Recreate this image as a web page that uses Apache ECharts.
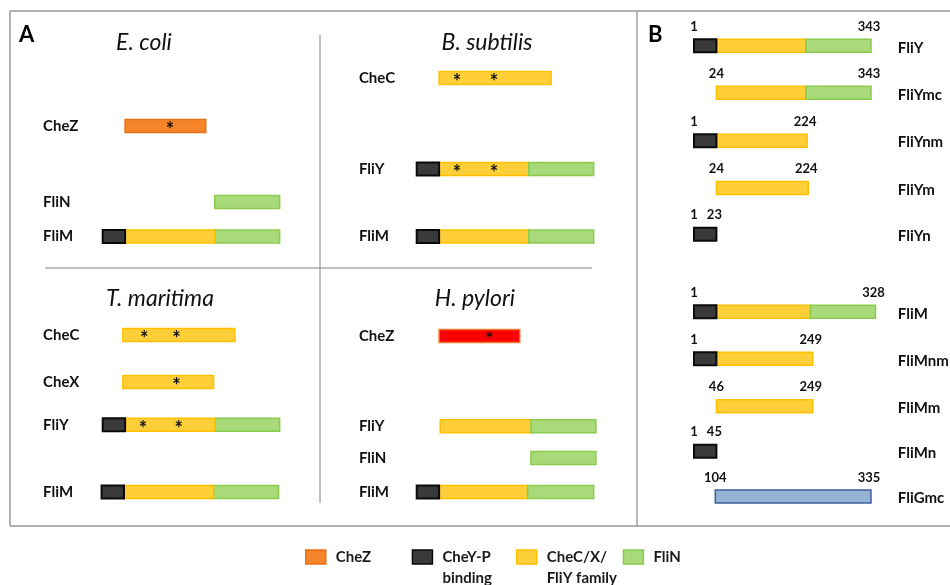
<!DOCTYPE html>
<html>
<head>
<meta charset="utf-8">
<script src="https://cdn.jsdelivr.net/npm/echarts@6/dist/echarts.min.js"></script>
<style>
  html, body { margin: 0; padding: 0; background: #fff; }
  #chart { width: 950px; height: 585px; }
</style>
</head>
<body>
<div id="chart"></div>
<script>
// x values are schematic domain units (N-terminal CheY-P block = 0..10)
// y values are row lanes inside each panel

// ---- A: E. coli ----
const ecoliProteins = ['CheZ', 'FliN', 'FliM']
const ecoliRows = [2.41, 4.65, 5.66]
const ecoliDomains = [
  [['CheZ', 10, 46]],
  [['FliN', 50, 79]],
  [['CheY', 0, 10], ['CheC', 10, 50], ['FliN', 50, 79]]
]
const ecoliStars = [[30], [], []]

// ---- A: T. maritima ----
const tmarProteins = ['CheC', 'CheX', 'FliY', 'FliM']
const tmarRows = [8.56, 9.94, 11.2, 13.18]
const tmarDomains = [
  [['CheC', 9, 59]],
  [['CheC', 9, 49.5]],
  [['CheY', 0, 10], ['CheC', 10, 50], ['FliN', 50, 79]],
  [['CheY', -0.5, 9.5], ['CheC', 9.5, 49.5], ['FliN', 49.5, 78.5]]
]
const tmarStars = [[18.5, 33], [33], [18, 34], []]

// ---- A: B. subtilis ----
const bsubProteins = ['CheC', 'FliY', 'FliM']
const bsubRows = [1.0, 3.68, 5.66]
const bsubDomains = [
  [['CheC', 10, 60]],
  [['CheY', 0, 10], ['CheC', 10, 50], ['FliN', 50, 79]],
  [['CheY', 0, 10], ['CheC', 10, 50], ['FliN', 50, 79]]
]
const bsubStars = [[18, 34.5], [18, 34.5], []]

// ---- A: H. pylori ----
const hpylProteins = ['CheZ', 'FliY', 'FliN', 'FliM']
const hpylRows = [8.59, 11.24, 12.18, 13.18]
const hpylDomains = [
  [['CheZhp', 10, 46]],
  [['CheC', 10.5, 51], ['FliN', 51, 80]],
  [['FliN', 51, 80]],
  [['CheY', 0, 10], ['CheC', 10, 49.5], ['FliN', 49.5, 79]]
]
const hpylStars = [[32.5], [], [], []]

// ---- B: constructs ----
const fliConstructs = ['FliY', 'FliYmc', 'FliYnm', 'FliYm', 'FliYn', 'FliM', 'FliMnm', 'FliMm', 'FliMn', 'FliGmc']
const fliRows = [0, 1.0, 2.02, 3.03, 4.01, 5.66, 6.66, 7.67, 8.63, 9.59]
const fliDomains = [
  [['CheY', 0, 10], ['CheC', 10, 50], ['FliN', 50, 79]],
  [['CheC', 10, 50], ['FliN', 50, 79]],
  [['CheY', 0, 10], ['CheC', 10, 50.5]],
  [['CheC', 10, 51]],
  [['CheY', 0, 10]],
  [['CheY', 0, 10], ['CheC', 10, 52], ['FliN', 52, 81]],
  [['CheY', 0, 10], ['CheC', 10, 53]],
  [['CheC', 10, 53]],
  [['CheY', 0, 10]],
  [['FliG', 9.5, 79]]
]
const fliResidues = [[1, 343], [24, 343], [1, 224], [24, 224], [1, 23], [1, 328], [1, 249], [46, 249], [1, 45], [104, 335]]

const FONT = 'Lato, "Open Sans", sans-serif'
const BAR_H = 13
const COLORS = {
  CheZ: { fill: '#F5842A', stroke: '#EC6E14', lw: 1.5 },
  CheZhp: { fill: '#FF0000', stroke: '#EC7A2C', lw: 1.5 },
  CheY: { fill: '#3A3A3A', stroke: '#0A0A0A', lw: 2 },
  CheC: { fill: '#FFCF3A', stroke: '#FFC000', lw: 1.5 },
  FliN: { fill: '#A8DA7A', stroke: '#8ACB4E', lw: 1.5 },
  FliG: { fill: '#95B3D7', stroke: '#3B5F97', lw: 1.5 }
}
const SERIES_NAMES = {
  CheZ: 'CheZ',
  CheZhp: 'CheZ (H. pylori)',
  CheY: 'CheY-P\nbinding',
  CheC: 'CheC/X/\nFliY family',
  FliN: 'FliN',
  FliG: 'FliG'
}

// bars of one grid, one series per domain type
function barSeries (gridIndex, rows, domains) {
  const byType = {}
  domains.forEach((segs, i) => {
    segs.forEach(([type, start, end]) => {
      (byType[type] = byType[type] || []).push([start, end, rows[i]])
    })
  })
  return Object.keys(byType).map(type => {
    const c = COLORS[type]
    return {
      type: 'custom',
      name: SERIES_NAMES[type],
      xAxisIndex: gridIndex,
      yAxisIndex: gridIndex,
      encode: { x: [0, 1], y: 2 },
      itemStyle: { color: c.fill, borderColor: c.stroke, borderWidth: c.lw },
      z: type === 'CheY' ? 3 : 2,
      data: byType[type],
      renderItem: (params, api) => {
        const a = api.coord([api.value(0), api.value(2)])
        const b = api.coord([api.value(1), api.value(2)])
        return {
          type: 'rect',
          shape: { x: a[0], y: a[1] - BAR_H / 2, width: b[0] - a[0], height: BAR_H },
          style: { fill: c.fill, stroke: c.stroke, lineWidth: c.lw }
        }
      }
    }
  })
}

// names, asterisks and residue numbers of one grid
function textSeries (gridIndex, items) {
  return {
    type: 'custom',
    xAxisIndex: gridIndex,
    yAxisIndex: gridIndex,
    silent: true,
    z: 10,
    data: items.map(t => [t.x, t.y]),
    renderItem: (params, api) => {
      const t = items[params.dataIndex]
      const p = api.coord([t.x, t.y])
      return {
        type: 'text',
        x: p[0] + (t.dx || 0),
        y: p[1] + (t.dy || 0),
        style: {
          text: t.text,
          font: t.font,
          fill: '#111',
          align: t.align,
          verticalAlign: 'middle'
        }
      }
    }
  }
}

const NAME_FONT = 'bold 15px ' + FONT
const STAR_FONT = 'bold 20px ' + FONT
const NUM_FONT = 'bold 13px ' + FONT

function panelTexts (nameX, proteins, rows, stars) {
  const items = []
  proteins.forEach((p, i) => {
    items.push({ x: nameX, y: rows[i], text: p, font: NAME_FONT, align: 'left' })
    stars[i].forEach(s => {
      items.push({ x: s, y: rows[i], dy: 4.5, text: '*', font: STAR_FONT, align: 'center' })
    })
  })
  return items
}

function constructTexts (nameX) {
  const items = []
  fliConstructs.forEach((p, i) => {
    const segs = fliDomains[i]
    const start = segs[0][1]
    const end = segs[segs.length - 1][2]
    items.push({ x: nameX, y: fliRows[i], dy: 2, text: p, font: NAME_FONT, align: 'left' })
    items.push({ x: start, y: fliRows[i], dy: -19, text: String(fliResidues[i][0]), font: NUM_FONT, align: 'center' })
    items.push({ x: end, y: fliRows[i], dy: -19, dx: -2, text: String(fliResidues[i][1]), font: NUM_FONT, align: 'center' })
  })
  return items
}

const hiddenAxis = (min, max, inverse) => ({
  type: 'value', min: min, max: max, inverse: inverse, show: false
})

const grids = [
  { left: 102.7, top: 44, width: 179.2, height: 476 },
  { left: 416.7, top: 44, width: 179.2, height: 476 },
  { left: 694, top: 45.7, width: 183.7, height: 470 }
]

const series = [].concat(
  barSeries(0, ecoliRows.concat(tmarRows), ecoliDomains.concat(tmarDomains)),
  barSeries(1, bsubRows.concat(hpylRows), bsubDomains.concat(hpylDomains)),
  barSeries(2, fliRows, fliDomains),
  [
    textSeries(0, panelTexts(-26.6, ecoliProteins, ecoliRows, ecoliStars)
      .concat(panelTexts(-26.6, tmarProteins, tmarRows, tmarStars))),
    textSeries(1, panelTexts(-25.8, bsubProteins, bsubRows, bsubStars)
      .concat(panelTexts(-25.8, hpylProteins, hpylRows, hpylStars))),
    textSeries(2, constructTexts(91))
  ]
)

// one legend per item so each can sit where the reference has it;
// two-line names get a blank first line so their first line sits beside the swatch
function legendItem (type, left, twoLines) {
  const c = COLORS[type]
  return {
    left: left,
    top: twoLines ? 525.5 : 546.5,
    padding: 0,
    itemWidth: 20,
    itemHeight: 14,
    selectedMode: false,
    icon: 'rect',
    formatter: twoLines ? (n => '\u00a0\n' + n) : '{name}',
    data: [{
      name: SERIES_NAMES[type],
      itemStyle: { color: c.fill, borderColor: c.stroke, borderWidth: 1.5 },
      textStyle: {
        fontFamily: FONT,
        fontSize: 15,
        fontWeight: 'bold',
        color: '#1a1a1a',
        lineHeight: 21,
        padding: [0, 0, 0, 5]
      }
    }]
  }
}

const titleText = (x, y, text) => ({
  type: 'text',
  x: x,
  y: y,
  silent: true,
  style: { text: text, font: 'italic 23px ' + FONT, fill: '#111', align: 'center', verticalAlign: 'middle' }
})
const panelLetter = (x, y, text) => ({
  type: 'text',
  x: x,
  y: y,
  silent: true,
  style: { text: text, font: 'bold 22px ' + FONT, fill: '#000', align: 'left', verticalAlign: 'middle' }
})
const rule = (x1, y1, x2, y2, color, w) => ({
  type: 'line',
  silent: true,
  shape: { x1: x1, y1: y1, x2: x2, y2: y2 },
  style: { stroke: color, lineWidth: w }
})

const chart = echarts.init(document.getElementById('chart'))
chart.setOption({
  animation: false,
  backgroundColor: '#fff',
  grid: grids,
  xAxis: [hiddenAxis(0, 80, false), hiddenAxis(0, 80, false), hiddenAxis(0, 82, false)].map((a, i) => Object.assign(a, { gridIndex: i })),
  yAxis: [hiddenAxis(0, 14, true), hiddenAxis(0, 14, true), hiddenAxis(0, 10, true)].map((a, i) => Object.assign(a, { gridIndex: i })),
  legend: [
    legendItem('CheZ', 305, false),
    legendItem('CheY', 411.7, true),
    legendItem('CheC', 516, true),
    legendItem('FliN', 622.7, false)
  ],
  graphic: [
    rule(10, 11, 950, 11, '#9a9a9a', 1.5),
    rule(10, 11, 10, 526, '#9a9a9a', 1.5),
    rule(10, 526, 950, 526, '#9a9a9a', 1.5),
    rule(637, 11, 637, 526, '#8a8a8a', 1.2),
    rule(320, 35, 320, 503, '#808080', 1),
    rule(45, 268, 592, 268, '#808080', 1),
    panelLetter(19, 35, 'A'),
    panelLetter(648, 35, 'B'),
    titleText(144, 43, 'E. coli'),
    titleText(487, 43, 'B. subtilis'),
    titleText(160, 299, 'T. maritima'),
    titleText(475, 299, 'H. pylori')
  ],
  series: series
})
</script>
</body>
</html>
